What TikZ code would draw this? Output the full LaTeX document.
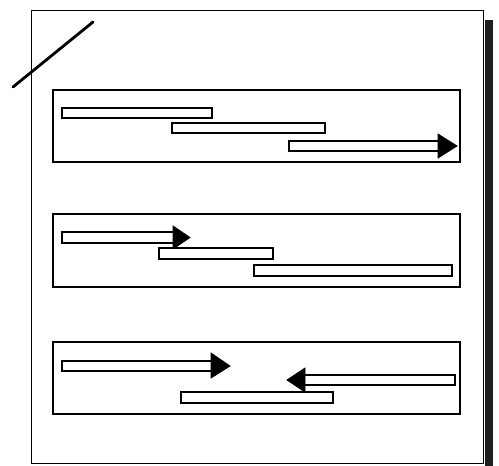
\documentclass[tikz,border=0pt]{standalone}
\begin{document}
\begin{tikzpicture}[x=1pt,y=-1pt,
  page/.style={draw=black,line width=1pt,fill=white},
  panel/.style={draw=black,line width=2.6pt},
  bar/.style={draw=black,line width=1.8pt,fill=white},
  head/.style={fill=black,draw=black,line width=0.8pt,line join=miter}]
\useasboundingbox (0,0) rectangle (499,466);
% shadow and page
\fill[black!88] (485,20) rectangle (493,466);
\draw[page] (31,10) rectangle (483,463);
% diagonal stroke
\draw[line width=2.8pt,line cap=round] (13,87) -- (93,22);
% panel 1
\draw[panel] (53,90) rectangle (460,162);
\draw[bar] (62,108) rectangle (212,118);
\draw[bar] (172,123) rectangle (325,133);
\draw[bar] (289,141) rectangle (439,151);
\draw[head] (438,134) -- (457,146) -- (438,158) -- cycle;
% panel 2
\draw[panel] (53,214) rectangle (460,287);
\draw[bar] (62,232) rectangle (174,243);
\draw[head] (173,226) -- (190,237.5) -- (173,249) -- cycle;
\draw[bar] (159,248) rectangle (273,259);
\draw[bar] (254,265) rectangle (452,276);
% panel 3
\draw[panel] (53,342) rectangle (460,414);
\draw[bar] (62,361) rectangle (212,371);
\draw[head] (211,353) -- (230,366) -- (211,378) -- cycle;
\draw[bar] (304,375) rectangle (455,385);
\draw[head] (305,368) -- (287,380) -- (305,392) -- cycle;
\draw[bar] (181,392) rectangle (333,403);
\end{tikzpicture}
\end{document}
